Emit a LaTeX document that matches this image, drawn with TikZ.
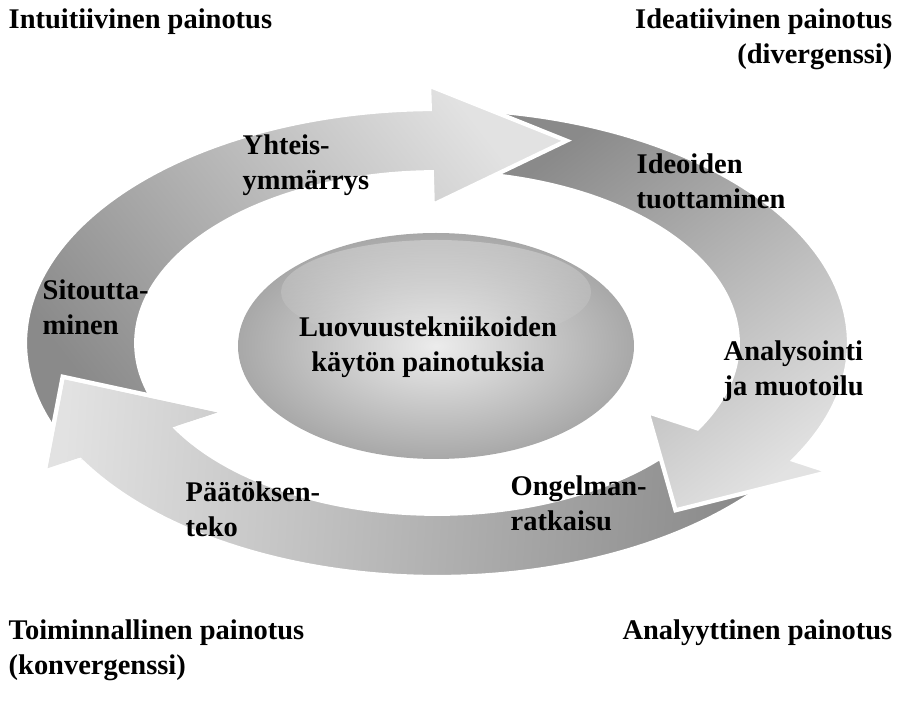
\documentclass[tikz,border=0pt]{standalone}
\usepackage{fontspec}
\setmainfont{Liberation Serif}
\usepackage{xcolor}
\definecolor{ArrDark}{RGB}{138,138,138}
\definecolor{ArrLight}{RGB}{226,226,226}
\definecolor{BallIn}{RGB}{236,236,236}
\definecolor{BallOut}{RGB}{168,168,168}
\usepackage{tikz}
\usetikzlibrary{fadings}
\newcommand{\lbl}{\fontsize{8.1}{10}\selectfont\bfseries}
\tikzstyle{Label}=[font=\lbl,inner sep=0pt,anchor=west,align=left]
\tikzstyle{LabelR}=[font=\lbl,inner sep=0pt,anchor=east,align=right]
\tikzstyle{Arrow}=[draw=white,line width=1.2pt,line join=miter,
bottom color=ArrDark,top color=ArrLight]
\tikzstyle{Ball}=[inner color=BallIn,outer color=BallOut]
% one curved arrow of the cycle: tail angle, base angle of the head
\newcommand{\cyclepath}[2]{(#1:4.12 and 2.34)
    arc[start angle=#1,end angle=#2,x radius=4.12,y radius=2.34]
    --(#2:4.532 and 2.574)--({#2-21}:3.79 and 2.153)--(#2:2.431 and 1.381)
    --(#2:3.008 and 1.708)
    arc[start angle=#2,end angle=#1,x radius=3.008,y radius=1.708]--cycle}

\begin{document}
\begin{tikzpicture}
    \useasboundingbox (0,0) rectangle (9.03,7.04);
    \coordinate (c) at (4.37,3.61);
    \begin{scope}[shift={(c)}]
        \shadedraw[Arrow,shading angle=86] \cyclepath{-39}{-150};
        \shadedraw[Arrow,shading angle=-143] \cyclepath{82}{-30};
        \shadedraw[Arrow,shading angle=-52] \cyclepath{201}{91};
        % head of the third arrow lies over the tail of the first
        \begin{scope}
            \clip (-150:4.532 and 2.574)--(-171:3.79 and 2.153)
                --(-150:2.431 and 1.381)--cycle;
            \shade[Arrow,shading angle=86] \cyclepath{-39}{-150};
        \end{scope}
        \draw[white,line width=1.2pt,line join=miter]
            (-150:4.12 and 2.34)--(-150:4.532 and 2.574)
            --(-171:3.79 and 2.153)--(-150:2.431 and 1.381)
            --(-150:3.008 and 1.708);
    \end{scope}
    \path[Ball] (4.36,3.58) ellipse [x radius=1.98,y radius=1.13];
    \fill[white,fill opacity=.3,path fading=south]
        (4.36,4.12) ellipse [x radius=1.55,y radius=0.52];
    \node[font=\lbl,inner sep=0pt,align=center](hub)at(4.28,3.565)
        {Luovuustekniikoiden\\käytön painotuksia};
    \node[Label](intu)at(0.08,6.82){Intuitiivinen painotus};
    \node[LabelR](idea)at(8.93,6.645){Ideatiivinen painotus\\(divergenssi)};
    \node[Label](toim)at(0.08,0.535){Toiminnallinen painotus\\(konvergenssi)};
    \node[LabelR](anal)at(8.93,0.71){Analyyttinen painotus};
    \node[Label](yht)at(2.42,5.385){Yhteis-\\ymmärrys};
    \node[Label](ideo)at(6.36,5.225){Ideoiden\\tuottaminen};
    \node[Label](sit)at(0.42,3.965){Sitoutta-\\minen};
    \node[Label](ana)at(7.23,3.325){Analysointi\\ja muotoilu};
    \node[Label](paat)at(1.85,1.945){Päätöksen-\\teko};
    \node[Label](ong)at(5.10,2.005){Ongelman-\\ratkaisu};
\end{tikzpicture}
\end{document}
